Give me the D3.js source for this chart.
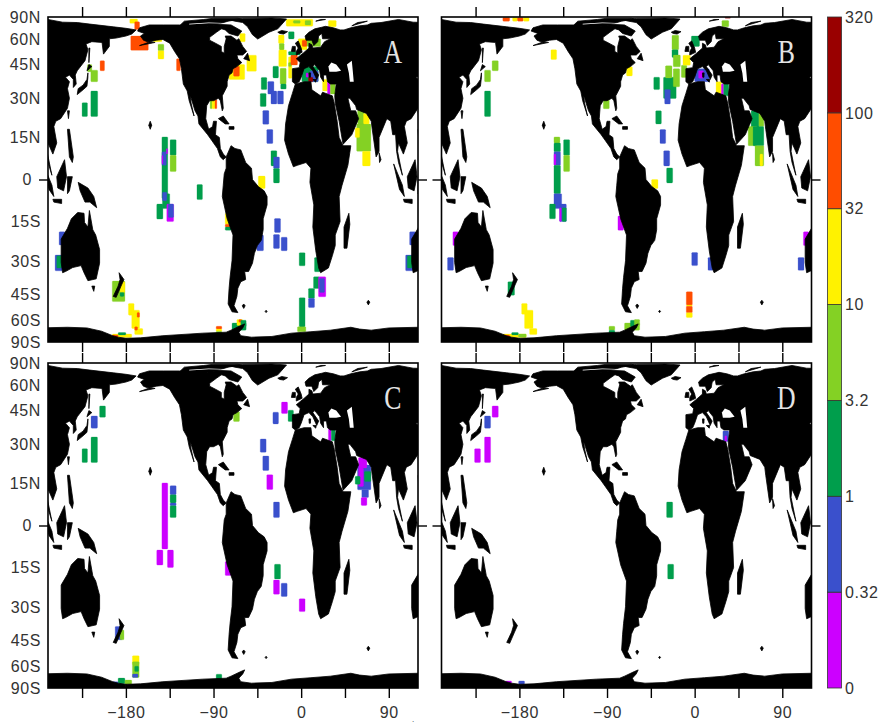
<!DOCTYPE html>
<html>
<head>
<meta charset="utf-8">
<script src="https://cdn.jsdelivr.net/npm/d3@7"></script>
<style>
    html, body { margin: 0; padding: 0; background: #fff; }
    text { font-family: "Liberation Sans", sans-serif; fill: #333; letter-spacing: 0.6px; }
</style>
</head>
<body>
<div id="chart"></div>
<script>
// colour classes, bottom to top of the bar
const class_labels = ["0", "0.32", "1", "3.2", "10", "32", "100", "320"];
const class_breaks = [0.32, 1, 3.2, 10, 32, 100];
const class_colors = ["#cc00ff", "#3a50cc", "#009e4c", "#84d124", "#fff200", "#ff4d00", "#990000"];

const lon_ticks = [-225, -180, -135, -90, -45, 0, 45, 90];
const lon_labels = [-180, -90, 0, 90];
const lat_ticks = [90, 60, 45, 30, 15, 0, -15, -30, -45, -60, -90];

// coastlines, [lon, lat]
const north_america = [[-168,66],[-166,69],[-156,72],[-141,72],[-125,72],[-115,70],[-108,70],[-96,70],[-94,73],[-85,70],[-82,68],[-87,65],[-94,61],[-94,59],[-88,57],[-82,55],[-82,52],[-79,51],[-79,55],[-77,60],[-78,62],[-72,62],[-66,59],[-64,60],[-60,55],[-56,52],[-60,50],[-66,50],[-65,48],[-61,46],[-66,44],[-70,43],[-71,41],[-74,40],[-76,37],[-76,35],[-81,31],[-80,26],[-81,25],[-83,29],[-85,30],[-90,29],[-94,29],[-97,27],[-98,22],[-95,18],[-91,19],[-90,21],[-87,21],[-88,16],[-84,15],[-83,11],[-80,9],[-77,8],[-80,7],[-83,8],[-86,11],[-92,14],[-96,16],[-105,20],[-106,23],[-109,25],[-113,30],[-114,31],[-113,28],[-110,23],[-115,29],[-117,33],[-121,36],[-123,43],[-125,48],[-130,52],[-135,57],[-142,59.5],[-149,59],[-155,58],[-166,55.5],[-150,57.5],[-158,58],[-162,59],[-165,62],[-161,64]];
const south_america = [[-77,8],[-72,12],[-68,11],[-62,10.5],[-57,6],[-51,4],[-50,0],[-44,-2.5],[-38,-4],[-35,-6],[-35,-9],[-39,-14],[-39,-18],[-41,-22],[-45,-24],[-48,-27],[-50,-31],[-54,-34.5],[-58,-34.5],[-57,-38],[-62,-39],[-65,-42],[-66,-46],[-69,-51],[-65,-55],[-71,-54.5],[-75,-50],[-74,-42],[-73,-37],[-71,-30],[-70,-20],[-76,-14],[-81,-6],[-80,-2],[-79,2],[-77,4]];
const africa = [[-6,36],[3,37],[10,37],[11,33.5],[20,31],[22,32.5],[32,31],[34,28],[37,21],[39,15],[43,12],[51,12],[48,5],[42,-2],[39,-6],[40,-15],[35,-20],[35,-24],[32,-28],[28,-33],[20,-35],[18,-33],[15,-26],[12,-17],[13,-9],[9,-1],[10,4],[5,6],[-4,5],[-8,4.5],[-13,9],[-17,14],[-16,20],[-13,27],[-9,32]];
const eurasia = [[-9,37],[-9,43],[-2,43.5],[-1,46],[-5,48],[2,51],[8,54],[8,57],[11,56],[12,54],[20,54.5],[24,58],[30,60],[22,60],[21,65],[24,66],[18,62],[17,58],[13,55.5],[11,59],[5,59],[4,62],[8,65],[14,68],[21,69.5],[25,70.5],[33,69],[40,67],[44,67],[51,69],[60,71],[68,72],[72,74],[82,75],[100,80],[115,75.5],[130,75],[143,73],[167,70],[180,68.5],[190.5,67],[186,63.5],[180,62],[170,60.5],[163,60],[163,55],[157,50.5],[155.5,57.5],[145,58],[139,56.5],[141,53],[138,47],[130,42],[128,40],[129,36],[126,34.5],[126,38],[122,40],[118,39],[122,37],[120,34],[122,30],[120,26],[113,22],[108,21],[106,19],[109,13],[105,9],[100,13],[99,10],[104,1.5],[100,6],[98,10],[97,16],[94,16],[92,21],[88,22],[80,15],[80,10],[77,8],[73,18],[72,21],[67,24],[57,25.5],[56,27],[50,30],[48,30],[51,25],[56,25],[59,22],[52,16],[43,12.5],[39,21],[35,28],[34.5,31],[36,36],[30,36],[27,37],[26,40],[23,40],[23,37],[20,39],[19,42],[14,45],[12,44],[18,40],[16,38],[12,42],[8,44],[3,43],[0,39],[-2,37],[-6,36]];
const australia = [[113.5,-21.5],[120,-17.5],[124,-14],[130.5,-11.7],[137,-12],[137.5,-15.3],[141,-17],[142.5,-11],[146,-18],[149,-20],[153,-25.5],[153,-31],[149.5,-37.7],[141,-38.5],[137,-35],[134,-32],[125.4,-32.8],[118,-34.5],[115,-35],[113.5,-30.7]];
const antarctica = [[-180,-77.7],[-165,-77],[-142,-74],[-101,-71],[-77,-70],[-72,-68],[-62,-64],[-58,-62.7],[-60,-66],[-64,-70],[-62,-74],[-51,-76],[-30,-75],[-10,-71],[10,-69.5],[30,-68],[51,-65.4],[60,-67],[72,-68],[90,-66],[120,-65.4],[140,-66],[155,-69],[166.5,-74],[172,-76],[180,-77.7],[180,-90],[-180,-90]];
const greenland = [[-73,79],[-60,82.5],[-30,84],[-15,81],[-17,77],[-24,68],[-33,65],[-44.6,59.8],[-50,63],[-55,70],[-60,75],[-68,77]];
const islands = [
    [[-90,73],[-72,72],[-61,66],[-65,62],[-74,64],[-78,67],[-88,70]],
    [[-125,71],[-120,77],[-100,80],[-90,83],[-65,83],[-62,81],[-75,77],[-85,73],[-100,69],[-117,69]],
    [[-24,65],[-20,66.5],[-14,65.5],[-18,63.5],[-22,64]],
    [[-5,50],[1,51.5],[0,54],[-3,58.5],[-6,57],[-3,54],[-5,52]],
    [[-10,52],[-6,52],[-6,55],[-9,55]],
    [[95,5.5],[104,-2],[106,-6],[101,-3.5]],
    [[105,-7],[114,-7],[114,-8.5],[106,-8]],
    [[109,1],[117,7],[119,1],[116,-4],[110,-3]],
    [[120,1],[125,1],[122,-4],[120,-5]],
    [[131,-1],[141,-3],[147,-6],[150,-10],[143,-8],[138,-8],[133,-4]],
    [[120,18],[122,18],[124,13],[126,8],[125,6],[122,8],[121,13]],
    [[120,25],[122,25],[121,22]],
    [[130,31.5],[131,34],[136,35.5],[140,38],[141,41],[141,39],[140,35],[136,33.5]],
    [[140,42],[145,44],[142,45]],
    [[142,46],[143,54],[142,54],[142,48]],
    [[80,9.5],[82,7],[80.5,6]],
    [[49,-12],[50,-16],[47,-25],[44,-25],[44,-17]],
    [[145,-41],[148,-41],[147,-43.5]],
    [[173,-35],[178,-38],[175,-41],[170,-46.5],[167,-46],[172,-41],[174,-38]],
    [[-85,22],[-80,23],[-74,20],[-78,20]],
    [[-74,19],[-69,19],[-69,18],[-74,18]],
    [[-59,48],[-55,51],[-53,47]],
    [[-156.5,19.5],[-155,21],[-153.5,19.5],[-155,18]],
    [[-60.5,-51],[-59,-50],[-57.5,-51],[-59,-52.5]],
    [[-37,-54.3],[-36,-53.6],[-35,-54.3],[-36,-55]],
    [[67.5,-49],[69,-48],[70.5,-49],[69,-50.5]],
    [[15,77],[25,80],[20,80]],
    [[52,71],[68,77],[58,75]],
    [[12,38],[15.5,38],[15,36.8]],
    [[8,41],[9.7,41],[9.5,39],[8.3,39]]
];
const inland_water = [
    [[47,45],[52,47],[53,42],[54,37],[50,37],[49,41]],
    [[28,44],[31,46],[36,45],[41,42],[36,41.5],[29,41.5]],
    [[-115,73.5],[-95,75],[-80,74.5],[-80,73.8],[-95,74],[-115,72.5]]
];

// [lon west, lat south, lon east, lat north, value]
const panel_a = [
    [-206.5,42,-202,47,50],[-219.5,41.5,-215,45,5],[-216,37,-209,42.3,5],[-216,22.8,-209,33,2],[-225,22.8,-219.5,28.2,2],
    [-176,74,-168,81,20],[-171,67.4,-166,76,50],[-175,52.7,-157,62,50],[-152,58,-143,60,20],
    [-147,52.4,-141,56.4,5],[-147,47.8,-141,52.4,20],[-128,42,-124,48,50],
    [-93.5,25.8,-91.5,29.5,5],[-91.5,25.8,-88.5,29.5,20],[-88.5,25.8,-86.6,29.5,50],
    [-41,33.6,-35.3,38.9,2],[-29,38.7,-23.3,44.2,2],[-34.2,31.7,-28,37.1,0.5],[-31,27.7,-25,33,0.5],[-24.3,27.7,-18.2,33,0.5],
    [-42,26.7,-36,32,2],[-39.4,19.9,-33.2,25.1,0.5],[-35.3,12.8,-29.1,17.9,0.5],[-31,4.8,-25,10.2,2],[-28.4,3.9,-22.3,8,0.5],
    [-28.4,-1.2,-22.3,3.9,2],[-44,-3.2,-37,1.2,20],[-27.4,-19,-21.2,-13.9,0.5],[-28.4,-25.1,-22.3,-19.8,0.5],[-20.5,-26,-14.4,-20.8,0.5],
    [-45.5,-26,-38.7,-20,0.5],[-2,-32.1,4,-26.8,2],[13.7,-34.6,19.5,-28.7,2],[12.7,-42.1,18.8,-36.8,2],
    [17.8,-46.2,25.3,-36.8,0.1],[18.8,-44,24,-37.5,0.5],[7.5,-47,13.7,-42.1,2],[7.5,-52,13.7,-47,0.5],
    [-2,-65.1,4,-46.7,2],[-3.8,-69.6,4.8,-65,5],
    [-248.6,-23.8,-242.5,-18.8,0.5],[-252.7,-34.2,-244.9,-27.7,0.5],[-251,-33,-246,-28,2],
    [-194,-48.7,-181,-38.7,5],[-186,-44,-181,-39,20],[-186,-46,-182,-44,2],
    [-177.4,-56.6,-171.6,-49.7,20],[-174,-66.5,-166,-53.5,20],[-171,-72.6,-162.7,-66.5,20],[-168.5,-58,-166,-55,50],[-171,-68,-168,-65,50],
    [-194,-76.4,-174,-72,20],[-194,-76.4,-188,-73,50],[-188,-73,-180,-70.4,2],
    [-87.3,-67,-81.5,-64.6,50],[-87.3,-69,-81.5,-67,20],[-87.3,-72,-81.5,-69,5],
    [-71,-68,-56.5,-62,2],[-66,-64,-60,-59.5,20],[-64,-61.5,-61,-59.5,50],[-62,-65,-56.5,-60,2],
    [-78,-16,-72,-12,20],[-78,-17,-72,-16,50],[-78,-18.2,-72,-17,2],
    [-143,-6.7,-137,15.2,2],[-143,5,-138.5,9.8,0.5],[-138.5,9,-137,11,0.1],[-143,5.5,-142,8.5,0.1],[-142.5,-10.3,-135,-5,2],[-142.5,-7.5,-138,-4.5,0.5],
    [-134.6,8.6,-128.4,14.2,2],[-134.6,2.8,-128.4,8.6,5],[-148.3,-14.1,-142,-8.7,2],
    [-138,-15,-131,-8.7,0.1],[-136.5,-13.5,-131,-8.7,0.5],[-107,-7.1,-101.4,-1.8,2],
    [-23.3,56.8,-17.5,62.8,20],[-22.5,52.9,-17.5,56.8,5],[-23,44,-15,52.9,20],[-13,59.9,-7.2,65.5,2],
    [-21.6,36,-15.4,43.2,5],[-21,33.8,-15.4,36,2],[-13,38.5,-9.6,49,20],[-13,44,-10,46,5],[-10.6,44.8,-3.8,50,50],[-13,50,-1,52,2],
    [-3,53,6,60,20],[1,55,6,59,50],[6,55,20,60,5],[0.7,37,17.5,44,2],[9,37,17.5,42,0.5],[5,39,7.5,41,0.1],[7.5,37,12,39,200],
    [22,33,27,38,20],[27,31.7,30,37,0.1],[30,31.7,35,37,5],
    [57,10,71.6,20,5],[58,20,65,25.3,5],[64,20,70,24,20],[55.5,15,60,18.5,20],[63,4.8,71,10,20],
    [-55.8,41.8,-46,49.9,20],[-74,38,-58,45,20],[-69.5,39.5,-63.4,44.2,50],[-63,57.9,-57.5,63.9,20],
    [-15.4,70.7,12,80.7,20],[-8,74,-1,78,5],[4,72,10,78,5],[28,70,36,78,20]
];
const panel_b = [
    [-197,77,-190,85,50],[-187,77,-182,85,20],[-182,77,-176,85,50],[-176,77,-170,85,20],
    [-147.6,47.6,-141.8,53,20],[-208,42,-201.7,47,5],[-215.8,37,-209.6,42.3,5],[-215.8,22.8,-209.6,33,2],
    [-93.8,25.8,-87.7,29.6,5],[-70,39.6,-64,43.9,20],[-42,33.6,-36,39,2],[-32,29.9,-19,39,2],[-30.8,27.7,-25,33.6,0.5],
    [-40,20,-34.2,25,2],[-35.6,12.8,-29.8,17.9,0.5],[-31.8,4.8,-25.7,10.2,0.5],[-28.8,-1.2,-22.6,4.1,2],[-44.2,-3.2,-37.7,0,20],
    [-3,-32,3,-26.7,0.5],[13.7,-34,18.8,-28.7,0.5],
    [-8.6,-50.6,-2.4,-43.7,50],[-8.6,-51.2,-2.4,-50.6,20],[-8.6,-55.1,-2.4,-51.2,50],[-8.6,-58.1,-2.4,-55.1,20],
    [-248.3,-24,-242.8,-18.8,0.1],[-253.8,-34,-247.7,-28.7,0.5],[-191.8,-45.4,-185,-39,2],
    [-177.7,-56,-172,-49.7,20],[-174.7,-66.5,-166,-53.5,20],[-169.5,-72.6,-162,-66.5,20],
    [-197,-76.4,-173,-72,20],[-197,-76.4,-190,-73,50],[-188,-73,-181,-70.4,2],[-181,-76,-173,-72,5],
    [-88,-68,-82,-64.6,5],[-88,-72,-82,-68,2],[-72,-68,-56.5,-62,5],[-66,-65,-60,-60,2],[-62,-64,-56.5,-59.5,5],
    [-78.8,-18.2,-73,-13,0.1],
    [-144.5,13,-138.4,15.2,5],[-144.5,9.8,-137.8,13,2],[-144.5,5,-137.8,9.8,0.5],[-144.5,5,-142.5,9,0.1],[-144.5,-5,-137.8,5,2],
    [-144.5,-10.3,-136.6,-5,0.5],[-149,-14,-143,-8.7,2],[-138.7,-15,-131.8,-8.7,0.5],[-136,-15,-131.8,-10,2],[-138.7,-15,-137,-10,0.1],
    [-134.6,8.6,-128.4,14.2,2],[-134.6,2.8,-128.4,8.6,5],
    [-23.3,53,-16.4,62.6,5],[-23.3,48.7,-17,53,2],[-22,43.9,-14.7,50,5],[-30,38.7,-23.3,44.4,5],[-22,34.8,-15.4,43,5],
    [-13.7,38.9,-8,44.7,5],[-12,44.7,-4.5,49.9,20],[-3.4,55,5,62,2],[28,70,35,78,5],[31,83,37,86,200],
    [0,37,15,43,0.5],[4,38.5,9,42,0.1],[22,31.5,27.4,37,20],[27.4,31,29.8,36,0.1],[29.8,31,35,36,2],
    [58,18,66,25,2],[66,19,71,25,5],[55,12,64,19,5],[60,12,71,19,2],[62,4.8,71,12,5],[67,4.8,70,9,20]
];
const panel_c = [
    [-207,41.8,-201,47.4,2],[-215.8,36.8,-209.2,42.4,0.5],[-215.8,22.8,-209.2,33,2],[-225,22.8,-219.5,28.2,2],
    [-69.5,39.8,-63.4,44.6,5],[-20.2,43.6,-14,49.4,0.1],[-29,38.7,-23.3,44.2,0.5],[-13.4,39.8,-7.9,45.2,2],
    [-42,26.8,-36,32.2,0.5],[-39.4,19.8,-33.2,25.3,0.5],[-35.3,12.8,-29.1,18.2,0.1],[-28.4,2.8,-22.3,8.3,0.5],
    [-27.4,-19.2,-21.2,-13.8,2],[-28.4,-25,-22.3,-19.6,0.1],[-20.5,-25.9,-14.4,-20.8,0.5],[-2,-32,4,-26.8,0.1],[-78,-17.9,-72,-12.8,0.1],
    [-143,-8.3,-137,15.2,0.1],[-148.3,-14.1,-142,-8.7,0.1],[-137.3,-15,-131.2,-8.7,0.1],
    [-134.6,10.9,-128.4,14.2,0.5],[-134.6,8,-128.4,10.9,2],[-134.6,7,-128.4,8,0.5],[-134.6,2.8,-128.4,7,2],
    [-191,-44.7,-184,-38.4,0.5],[-186,-44.7,-182,-40,5],
    [-173.3,-59,-166.4,-53.3,20],[-173.3,-69.3,-166.4,-57,5],[-171,-64,-167,-60,2],[-173.3,-69.3,-167.5,-66,0.5],
    [-188,-77,-181,-69.9,2],[-181,-77.5,-174,-72,5],[-194,-77.5,-188,-74,0.5],
    [-87.3,-73,-81.5,-66.2,2],[28,31.4,31,36.5,0.1],[31,31.4,35,36.5,2],
    [57.9,12.7,71.6,21.9,0.5],[58.9,20.7,67.5,24.7,0.1],[58.9,13.9,64,20.7,0.1],[55.5,14.7,60.6,17.6,2],[65,15.7,71.6,19.4,2],
    [62.3,9.9,69.2,12.7,0.5],[61.6,7.1,67.5,9.9,0.1]
];
const panel_d = [
    [-208,41.8,-201.7,47.4,0.1],[-215.8,36.8,-209.6,42.4,0.5],[-215.8,22.8,-209.6,33,0.1],[-226,22.8,-220,28.2,0.1],
    [-28.8,2.8,-22.6,8.3,2],[-27.7,-19.2,-21.6,-13.8,2],[29,31.1,35,35.6,0.5],[31,31.1,33,33.5,0.1],
    [-194,-77.5,-188,-73,0.1],[-180.8,-77.5,-174.7,-73,0.5]
];

const color_of = d3.scaleThreshold().domain(class_breaks).range(class_colors);
const land_list = [north_america, south_america, africa, eurasia, australia, antarctica, greenland].concat(islands);

const svg = d3.select("#chart").append("svg")
    .attr("width", 879)
    .attr("height", 725);

function draw_panel(letter, cells, left, top, show_lat, show_lon) {
    const width = 370, height = 325;
    const x = d3.scaleLinear().domain([-260, 120]).range([0, width]);
    // latitude axis is equal area, linear in sine of latitude
    const y_sin = d3.scaleLinear().domain([1, -1]).range([0, height]);
    const y = lat => y_sin(Math.sin(lat * Math.PI / 180));
    const clip_id = "clip_" + letter;

    const g = svg.append("g").attr("transform", `translate(${left}, ${top})`);
    g.append("clipPath").attr("id", clip_id)
        .append("rect").attr("width", width).attr("height", height);
    const map = g.append("g").attr("clip-path", `url(#${clip_id})`);

    // cells first so the coast cuts them, map wraps so use the shifted copies too
    [0, 360].forEach(function (shift) {
        map.append("g").selectAll("rect")
            .data(cells)
            .join("rect")
            .attr("x", d => x(d[0] + shift))
            .attr("y", d => y(d[3]))
            .attr("width", d => x(d[2]) - x(d[0]))
            .attr("height", d => y(d[1]) - y(d[3]))
            .attr("rx", 0.8)
            .attr("fill", d => color_of(d[4]))
            .attr("stroke", d => color_of(d[4]))
            .attr("stroke-opacity", 0.25)
            .attr("stroke-width", 1);
    });

    const outline = d3.line().x(d => x(d[0])).y(d => y(d[1]));
    [0, -360].forEach(function (shift) {
        const moved = coast => coast.map(p => [p[0] + shift, p[1]]);
        map.append("g").selectAll("path")
            .data(land_list)
            .join("path")
            .attr("d", d => outline(moved(d)) + "Z")
            .attr("fill", "#000")
            .attr("stroke", "#000")
            .attr("stroke-width", 0.8)
            .attr("stroke-linejoin", "round");
        map.append("g").selectAll("path")
            .data(inland_water)
            .join("path")
            .attr("d", d => outline(moved(d)) + "Z")
            .attr("fill", "#fff");
    });

    g.append("rect")
        .attr("width", width)
        .attr("height", height)
        .attr("fill", "none")
        .attr("stroke", "#000")
        .attr("stroke-width", 1.6);

    g.append("g")
        .call(d3.axisTop(x).tickValues(lon_ticks).tickSize(10).tickFormat(""))
        .call(style_axis);
    const bottom_axis = g.append("g")
        .attr("transform", `translate(0, ${height})`)
        .call(d3.axisBottom(x).tickValues(lon_ticks).tickSize(10)
            .tickFormat(d => show_lon && lon_labels.includes(d) ? String(d).replace("-", "\u2212") : ""))
        .call(style_axis);
    bottom_axis.selectAll("text").attr("dy", 17).style("font-size", "16px");

    // only the equator has a tick mark on the sides
    g.append("g")
        .call(d3.axisLeft(y_sin).tickValues([0]).tickSize(9).tickFormat(""))
        .call(style_axis);
    g.append("g")
        .attr("transform", `translate(${width}, 0)`)
        .call(d3.axisRight(y_sin).tickValues([0]).tickSize(9).tickFormat(""))
        .call(style_axis);

    if (show_lat) {
        g.append("g").selectAll("text")
            .data(lat_ticks)
            .join("text")
            .attr("x", d => d === 0 ? -16 : -7)
            .attr("y", d => y(d))
            .attr("dy", "0.36em")
            .attr("text-anchor", "end")
            .style("font-size", "16px")
            .text(d => d === 0 ? "0" : Math.abs(d) + (d > 0 ? "N" : "S"));
    }

    g.append("text")
        .attr("transform", `translate(${width - 25}, 46) scale(0.78, 1)`)
        .attr("text-anchor", "middle")
        .style("font-family", '"Liberation Serif", serif')
        .style("font-size", "33px")
        .style("fill", "#e4e4e4")
        .text(letter);
}

function style_axis(sel) {
    sel.select(".domain").remove();
    sel.selectAll("line").attr("stroke", "#000").attr("stroke-width", 1.4);
}

function draw_color_bar() {
    const y = d3.scaleLinear().domain([0, class_colors.length]).range([688, 17]);
    const bar = svg.append("g");
    bar.selectAll("rect")
        .data(class_colors)
        .join("rect")
        .attr("x", 827.5)
        .attr("width", 14)
        .attr("y", (d, i) => y(i + 1))
        .attr("height", (d, i) => y(i) - y(i + 1))
        .attr("fill", d => d)
        .attr("stroke", "#333")
        .attr("stroke-width", 0.8);
    bar.selectAll("text")
        .data(class_labels)
        .join("text")
        .attr("x", 845)
        .attr("y", (d, i) => y(i))
        .attr("dy", "0.36em")
        .style("font-size", "16px")
        .text(d => d);
}

draw_panel("A", panel_a, 48, 17, true, false);
draw_panel("B", panel_b, 441.5, 17, false, false);
draw_panel("C", panel_c, 48, 363, true, true);
draw_panel("D", panel_d, 441.5, 363, false, true);
draw_color_bar();

// stray speck under panel C in the original
svg.append("text").attr("x", 412).attr("y", 722).style("font-size", "8px").text(".");
</script>
</body>
</html>
